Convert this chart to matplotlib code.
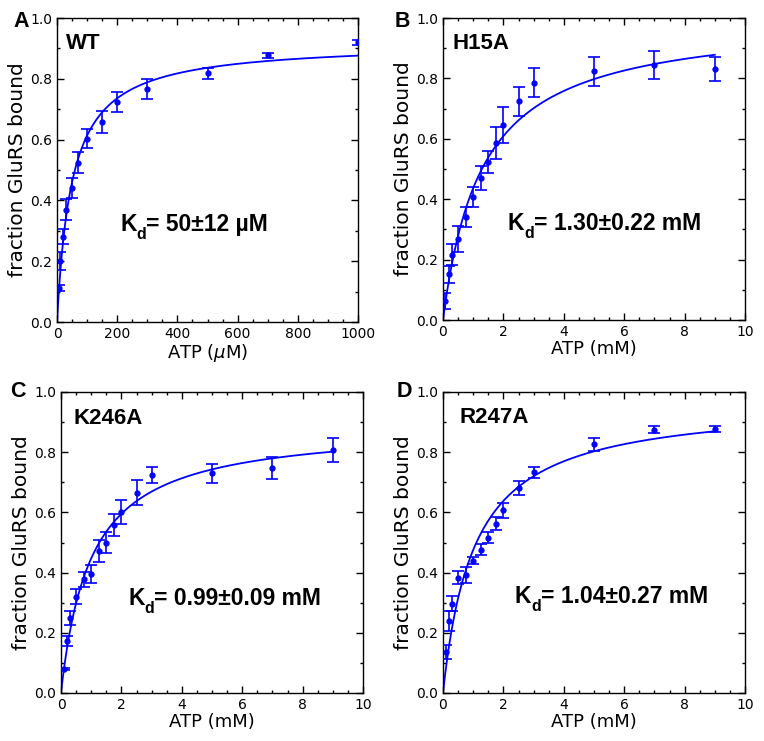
import numpy as np
import matplotlib
matplotlib.use('Agg')
import matplotlib.pyplot as plt
from matplotlib.ticker import MultipleLocator, FormatStrFormatter

plt.rcParams['mathtext.fontset'] = 'custom'
plt.rcParams['mathtext.it'] = 'DejaVu Sans:italic'

# WT (ATP in uM)
wt_atp = [5, 10, 20, 30, 50, 70, 100, 150, 200, 300, 500, 700, 1000]
wt_frac = [0.113, 0.20, 0.28, 0.37, 0.44, 0.524, 0.603, 0.659, 0.724, 0.767, 0.818, 0.878, 0.92]
wt_err = [0.01, 0.03, 0.025, 0.033, 0.033, 0.034, 0.032, 0.036, 0.034, 0.033, 0.018, 0.008, 0.009]

# H15A (ATP in mM)
h15_atp = [0.05, 0.2, 0.3, 0.5, 0.75, 1.0, 1.25, 1.5, 1.75, 2.0, 2.5, 3.0, 5.0, 7.0, 9.0]
h15_frac = [0.063, 0.151, 0.216, 0.267, 0.342, 0.408, 0.47, 0.523, 0.587, 0.645, 0.724, 0.786, 0.823, 0.845, 0.831]
h15_err = [0.027, 0.027, 0.035, 0.043, 0.033, 0.033, 0.04, 0.035, 0.053, 0.06, 0.048, 0.049, 0.049, 0.047, 0.04]

# K246A (ATP in mM)
k246_atp = [0.1, 0.2, 0.3, 0.5, 0.75, 1.0, 1.25, 1.5, 1.75, 2.0, 2.5, 3.0, 5.0, 7.0, 9.0]
k246_frac = [0.079, 0.172, 0.25, 0.32, 0.378, 0.396, 0.472, 0.50, 0.559, 0.60, 0.666, 0.725, 0.73, 0.748, 0.808]
k246_err = [0.003, 0.017, 0.023, 0.025, 0.025, 0.03, 0.036, 0.035, 0.037, 0.04, 0.043, 0.026, 0.032, 0.036, 0.039]

# R247A (ATP in mM)
r247_atp = [0.1, 0.2, 0.3, 0.5, 0.75, 1.0, 1.25, 1.5, 1.75, 2.0, 2.5, 3.0, 5.0, 7.0, 9.0]
r247_frac = [0.136, 0.239, 0.297, 0.383, 0.393, 0.44, 0.476, 0.516, 0.563, 0.607, 0.682, 0.733, 0.826, 0.875, 0.878]
r247_err = [0.022, 0.032, 0.025, 0.022, 0.026, 0.011, 0.018, 0.018, 0.022, 0.024, 0.023, 0.018, 0.021, 0.011, 0.01]

# fitted binding curves: bmax * x / (kd + x)
fit_kd = [50, 1.30, 0.99, 1.04]
fit_bmax = [0.92, 1.005, 0.89, 0.97]
fit_xmax = [1000, 9, 9, 9]

names = ['WT', 'H15A', 'K246A', 'R247A']
kd_values = ['= 50±12 µM', '= 1.30±0.22 mM', '= 0.99±0.09 mM', '= 1.04±0.27 mM']
letters = ['A', 'B', 'C', 'D']
xlabels = ['ATP ($\\mu$M)', 'ATP (mM)', 'ATP (mM)', 'ATP (mM)']

data = [(wt_atp, wt_frac, wt_err), (h15_atp, h15_frac, h15_err),
        (k246_atp, k246_frac, k246_err), (r247_atp, r247_frac, r247_err)]

fig = plt.figure(figsize=(7.64, 7.41), dpi=100)
W, H = 764.0, 741.0
# axes boxes in pixels: left, top, right, bottom
boxes = [(57, 18, 358, 322), (443, 18, 745, 320), (61, 392, 363, 693), (443, 392, 745, 693)]
name_pos = [(0.03, 0.95), (0.033, 0.95), (0.04, 0.947), (0.056, 0.95)]
kd_pos = [(0.21, 0.30), (0.215, 0.298), (0.222, 0.292), (0.238, 0.299)]
letter_pos = [(13, 27), (395, 27), (10, 397), (397, 397)]
blue = '#0000ff'
bold = dict(family='Liberation Sans', fontweight='bold')

for i in range(4):
    l, t, r, b = boxes[i]
    ax = fig.add_axes([l / W, (H - b) / H, (r - l) / W, (b - t) / H])
    x, y, e = data[i]
    ax.errorbar(x, y, yerr=e, fmt='o', color=blue, ms=3.5, elinewidth=1.2,
                capsize=4, capthick=1.2, zorder=3)
    xx = np.linspace(0, fit_xmax[i], 400)
    ax.plot(xx, fit_bmax[i] * xx / (fit_kd[i] + xx), color=blue, lw=1.3, zorder=2)

    if i == 0:
        ax.set_xlim(0, 1000)
        ax.xaxis.set_major_locator(MultipleLocator(200))
        ax.xaxis.set_minor_locator(MultipleLocator(50))
    else:
        ax.set_xlim(0, 10)
        ax.xaxis.set_major_locator(MultipleLocator(2))
        ax.xaxis.set_minor_locator(MultipleLocator(0.5))
    ax.set_ylim(0, 1.0)
    ax.yaxis.set_major_locator(MultipleLocator(0.2))
    ax.yaxis.set_minor_locator(MultipleLocator(0.1))
    ax.yaxis.set_major_formatter(FormatStrFormatter('%.1f'))
    ax.tick_params(which='both', direction='in', top=True, right=True, labelsize=10)
    ax.tick_params(which='major', length=5, width=1)
    ax.tick_params(which='minor', length=2.5, width=1)
    for s in ax.spines.values():
        s.set_linewidth(1.0)

    ax.set_xlabel(xlabels[i], fontsize=13, labelpad=1)
    ax.set_ylabel('fraction GluRS bound', fontsize=14.5, labelpad=2)

    ax.text(name_pos[i][0], name_pos[i][1], names[i], transform=ax.transAxes,
            fontsize=16, va='top', ha='left', **bold)

    # K_d label: K, subscript d, then the value
    tk = ax.text(kd_pos[i][0], kd_pos[i][1], 'K', transform=ax.transAxes,
                 fontsize=16.5, va='baseline', ha='left', **bold)
    td = ax.annotate('d', xy=(1, 0), xycoords=tk, xytext=(0, -4.5),
                     textcoords='offset points', fontsize=11.5, va='bottom', ha='left', **bold)
    ax.annotate(kd_values[i], xy=(1, 0), xycoords=(td, tk), fontsize=16.5,
                va='bottom', ha='left', **bold)

    fig.text(letter_pos[i][0] / W, 1 - letter_pos[i][1] / H, letters[i],
             fontsize=15.5, va='baseline', ha='left', **bold)

fig.savefig('out.png', dpi=100)
